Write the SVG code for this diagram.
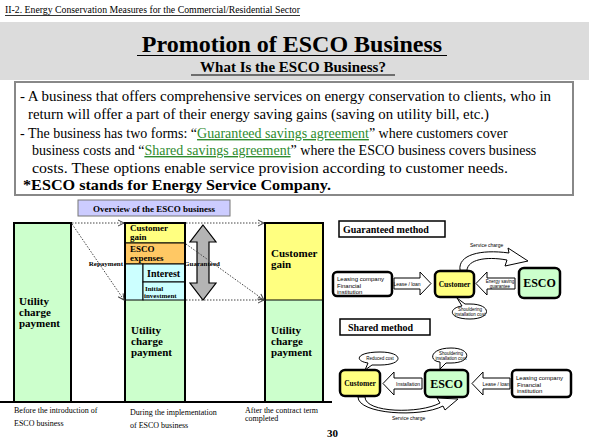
<svg xmlns="http://www.w3.org/2000/svg" width="589" height="442" viewBox="0 0 589 442">
<style>
.s{font-family:"Liberation Serif",serif}
.b{font-family:"Liberation Serif",serif;font-weight:bold}
.a{font-family:"Liberation Sans",sans-serif}
.bar{stroke:#000;stroke-width:2}
.g{fill:#ccffcc}.y{fill:#ffff80}.o{fill:#ffc864}.c{fill:#ccffff}
.dot{fill:none;stroke:#444;stroke-width:1;stroke-dasharray:1.5 1.5}
.blk{fill:#fff;stroke:#000;stroke-width:1}
.node{stroke:#000;stroke-width:2.5}
</style>
<defs>
<marker id="ah" markerWidth="8" markerHeight="8" refX="7" refY="4" orient="auto" markerUnits="userSpaceOnUse">
<path d="M1,1 L7,4 L1,7" fill="none" stroke="#444" stroke-width="1"/>
</marker>
</defs>
<rect width="589" height="442" fill="#fff"/>
<rect x="0" y="22" width="589" height="58" fill="#dcdcdc"/>
<text class="s" x="5" y="13" font-size="10.5" textLength="295" lengthAdjust="spacingAndGlyphs">II-2. Energy Conservation Measures for the Commercial/Residential Sector</text>
<line x1="5" y1="15.5" x2="300" y2="15.5" stroke="#000" stroke-width="0.8"/>
<text class="b" x="292" y="52" font-size="24" text-anchor="middle">Promotion of ESCO Business</text>
<line x1="137" y1="55.5" x2="447" y2="55.5" stroke="#000" stroke-width="1.2"/>
<text class="b" x="293" y="72" font-size="15" text-anchor="middle">What Is the ESCO Business?</text>
<line x1="191" y1="75" x2="395" y2="75" stroke="#000" stroke-width="1"/>

<g id="textbox">
<rect x="15" y="82" width="558" height="113" fill="#fff" stroke="#888" stroke-width="2"/>
<text class="s" x="20" y="101" font-size="14" textLength="531" lengthAdjust="spacingAndGlyphs">- A business that offers comprehensive services on energy conservation to clients, who in</text>
<text class="s" x="28" y="119" font-size="14" textLength="461" lengthAdjust="spacingAndGlyphs">return will offer a part of their energy saving gains (saving on utility bill, etc.)</text>
<text class="s" x="20" y="138" font-size="14">- The business has two forms: “<tspan fill="#2e8b2e" text-decoration="underline">Guaranteed savings agreement</tspan>” where customers cover</text>
<text class="s" x="32" y="155" font-size="14">business costs and “<tspan fill="#2e8b2e" text-decoration="underline">Shared savings agreement</tspan>” where the ESCO business covers business</text>
<text class="s" x="32" y="173" font-size="14" textLength="476" lengthAdjust="spacingAndGlyphs">costs. These options enable service provision according to customer needs.</text>
<text class="b" x="23" y="190" font-size="14" textLength="308" lengthAdjust="spacingAndGlyphs">*ESCO stands for Energy Service Company.</text>
</g>

<g id="overview-label">
<rect x="78" y="200" width="152" height="16" fill="#ccccff" stroke="#777" stroke-width="1"/>
<text class="b" x="154" y="211.5" font-size="9" text-anchor="middle">Overview of the ESCO business</text>
</g>

<g id="before">
<rect class="bar g" x="14" y="223" width="57" height="179"/>
<text class="b" font-size="11"><tspan x="19" y="305">Utility</tspan><tspan x="19" y="316">charge</tspan><tspan x="19" y="327">payment</tspan></text>
</g>

<g id="during">
<rect class="bar g" x="125" y="223" width="60" height="179"/>
<rect class="y" x="125" y="223" width="60" height="20" stroke="#000" stroke-width="1"/>
<rect class="o" x="125" y="243" width="60" height="21" stroke="#000" stroke-width="1"/>
<rect class="c" x="125" y="264" width="18" height="36" stroke="#000" stroke-width="1"/>
<rect class="c" x="143" y="264" width="42" height="18" stroke="#000" stroke-width="1"/>
<rect class="c" x="143" y="282" width="42" height="18" stroke="#000" stroke-width="1"/>
<rect x="125" y="223" width="60" height="179" fill="none" class="bar"/>
<text class="b" font-size="9"><tspan x="130" y="231">Customer</tspan><tspan x="130" y="240">gain</tspan></text>
<text class="b" font-size="9"><tspan x="130" y="252">ESCO</tspan><tspan x="130" y="261">expenses</tspan></text>
<text class="b" x="147" y="277" font-size="10">Interest</text>
<text class="b" font-size="7"><tspan x="145" y="291">Initial</tspan><tspan x="144" y="298">investment</tspan></text>
<text class="b" font-size="11"><tspan x="131" y="334">Utility</tspan><tspan x="131" y="345">charge</tspan><tspan x="131" y="356">payment</tspan></text>
</g>

<g id="after">
<rect class="bar g" x="265" y="223" width="58" height="179"/>
<rect class="y" x="265" y="223" width="58" height="77" stroke="#000" stroke-width="1"/>
<rect x="265" y="223" width="58" height="179" fill="none" class="bar"/>
<text class="b" font-size="11"><tspan x="271" y="257">Customer</tspan><tspan x="271" y="268">gain</tspan></text>
<text class="b" font-size="11"><tspan x="271" y="334">Utility</tspan><tspan x="271" y="345">charge</tspan><tspan x="271" y="356">payment</tspan></text>
</g>

<g id="guaranteed-arrow">
<path d="M203,225 L216,242 L209,242 L209,283 L216,283 L203,300 L190,283 L197,283 L197,242 L190,242 Z" fill="#b4b4b4" stroke="#000" stroke-width="1.2"/>
<text class="b" x="202" y="266" font-size="7" text-anchor="middle">Guaranteed</text>
</g>

<g id="connectors">
<line class="dot" x1="72" y1="223" x2="124" y2="223" marker-end="url(#ah)"/>
<line class="dot" x1="72" y1="224" x2="124" y2="300" marker-end="url(#ah)"/>
<line class="dot" x1="186" y1="223" x2="264" y2="223" marker-end="url(#ah)"/>
<line class="dot" x1="186" y1="244" x2="264" y2="300" marker-end="url(#ah)"/>
<line class="dot" x1="186" y1="300" x2="264" y2="300" marker-end="url(#ah)"/>
<text class="b" x="123" y="266" font-size="7" text-anchor="end">Repayment</text>
</g>

<line x1="0" y1="402" x2="332" y2="402" stroke="#000" stroke-width="2"/>
<text class="s" font-size="8"><tspan x="14" y="413">Before the introduction of</tspan><tspan x="14" y="426">ESCO business</tspan></text>
<text class="s" font-size="8"><tspan x="130" y="415">During the implementation</tspan><tspan x="130" y="428">of ESCO business</tspan></text>
<text class="s" font-size="8"><tspan x="245" y="413">After the contract term</tspan><tspan x="245" y="421">completed</tspan></text>
<text class="b" x="327" y="437" font-size="11">30</text>

<g id="guaranteed-method">
<rect x="339" y="221" width="106" height="16" fill="#fff" stroke="#000" stroke-width="1.5"/>
<text class="b" x="343" y="233" font-size="10">Guaranteed method</text>
<g id="g-leasing">
<rect class="node" x="333" y="272" width="59" height="24" rx="4" fill="#fff"/>
<text class="a" font-size="6"><tspan x="337" y="281">Leasing company</tspan><tspan x="337" y="288">Financial</tspan><tspan x="337" y="294">institution</tspan></text>
</g>
<g id="g-customer">
<rect class="node" x="435" y="271" width="39" height="26" rx="5" fill="#ffff80"/>
<text class="b" x="454.5" y="287" font-size="7.5" text-anchor="middle">Customer</text>
</g>
<g id="g-esco">
<rect class="node" x="519" y="268" width="41" height="30" rx="5" fill="#ccffcc"/>
<text class="b" x="539.5" y="287" font-size="12" text-anchor="middle">ESCO</text>
</g>
</g>

<g id="shared-method">
<rect x="340" y="319" width="90" height="16" fill="#fff" stroke="#000" stroke-width="1.5"/>
<text class="b" x="348" y="331" font-size="10">Shared method</text>
<g id="s-customer">
<rect class="node" x="340" y="370" width="40" height="26" rx="5" fill="#ffff80"/>
<text class="b" x="360" y="386" font-size="7.5" text-anchor="middle">Customer</text>
</g>
<g id="s-esco">
<rect class="node" x="425" y="370" width="43" height="27" rx="5" fill="#ccffcc"/>
<text class="b" x="446.5" y="388" font-size="12" text-anchor="middle">ESCO</text>
</g>
<g id="s-leasing">
<rect class="node" x="512" y="370" width="59" height="27" rx="4" fill="#fff"/>
<text class="a" font-size="6"><tspan x="516" y="380">Leasing company</tspan><tspan x="517" y="387">Financial</tspan><tspan x="517" y="393">institution</tspan></text>
</g>
</g>

<g id="method-connectors">
<path class="blk" d="M394,278 L420,278 L420,272 L431,283.5 L420,295 L420,289 L394,289 Z"/>
<text class="a" x="407" y="285.5" font-size="5" text-anchor="middle">Lease / loan</text>
<path class="blk" d="M515,278 L487,278 L487,272 L476,283.5 L487,295 L487,289 L515,289 Z"/>
<text class="a" font-size="4.5" text-anchor="middle"><tspan x="500" y="283">Energy saving</tspan><tspan x="500" y="288">guarantee</tspan></text>
<path class="blk" d="M460,270 C458,255 480,249 509,253 L508,248 L528,261 L505,266 L507,260 C485,256 468,260 467,270 Z"/>
<text class="a" x="470" y="247" font-size="5">Service charge</text>
<path class="blk" d="M457,298 L462,306 C448,308 448,319 470,319 C492,319 492,304 470,304 L465,304 Z"/>
<text class="a" font-size="4.5" text-anchor="middle"><tspan x="470" y="310.5">Shouldering</tspan><tspan x="470" y="315.5">installation cost</tspan></text>

<path class="blk" d="M422,378 L394,378 L394,372 L383,383.5 L394,395 L394,389 L422,389 Z"/>
<text class="a" x="408" y="385.5" font-size="5" text-anchor="middle">Installation</text>
<path class="blk" d="M510,378 L483,378 L483,372 L472,383.5 L483,395 L483,389 L510,389 Z"/>
<text class="a" x="496" y="385.5" font-size="5" text-anchor="middle">Lease / loan</text>
<path class="blk" d="M365,397 C365,413 420,414 440,403 L437,398 L458,399 L445,410 L443,406 C420,418 358,414 358,397 Z"/>
<text class="a" x="392" y="420" font-size="5">Service charge</text>
<path class="blk" d="M365,370 L368,363 C354,361 356,352 380,352 C404,352 404,365 380,365 L372,365 Z"/>
<text class="a" x="380" y="360" font-size="4.5" text-anchor="middle">Reduced cost</text>
<path class="blk" d="M440,369 L440,362 C428,361 430,348 451,348 C472,348 472,363 451,363 L446,363 Z"/>
<text class="a" font-size="4.5" text-anchor="middle"><tspan x="451" y="354.5">Shouldering</tspan><tspan x="451" y="359.5">installation cost</tspan></text>
</g>
</svg>
